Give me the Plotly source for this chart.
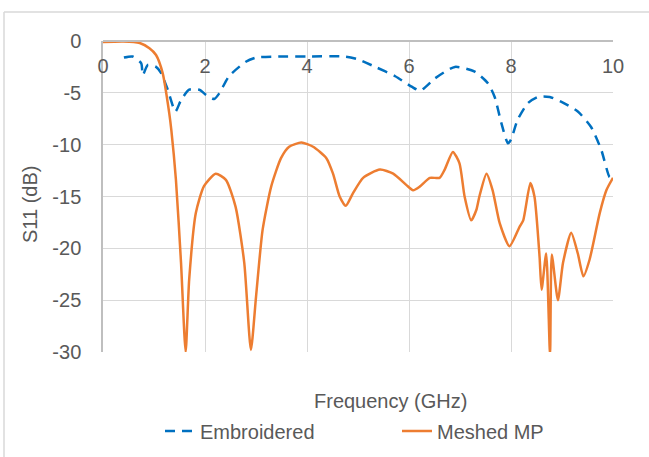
import plotly.graph_objects as go

# Embroidered (dashed blue)
emb_freq = [0.41, 0.58, 0.75, 0.78, 0.88, 1.04, 1.14, 1.27, 1.42, 1.53, 1.69, 1.89, 2.02, 2.18,
            2.28, 2.47, 2.8, 3.0, 3.5, 4.0, 4.75, 5.0, 5.34, 5.73, 6.05, 6.22, 6.51, 6.9, 7.29,
            7.55, 7.68, 7.81, 7.94, 8.0, 8.13, 8.33, 8.53, 8.76, 8.98, 9.31, 9.57, 9.77, 9.93, 9.98]
emb_s11 = [-1.6, -1.5, -2.15, -3.3, -2.3, -2.5, -3.1, -4.7, -6.8, -5.7, -4.7, -4.7, -5.2, -5.6,
           -5.05, -3.4, -2.0, -1.6, -1.5, -1.5, -1.5, -1.77, -2.5, -3.4, -4.4, -4.8, -3.6, -2.5, -2.96,
           -4.1, -5.4, -7.9, -9.87, -9.5, -7.6, -6.0, -5.4, -5.4, -5.85, -6.8, -8.3, -10.5, -13.1, -13.2]

# Meshed MP (solid orange)
mp_freq = [0, 0.4, 0.72, 0.91, 1.04, 1.17, 1.3, 1.34, 1.43, 1.53, 1.62, 1.69, 1.82, 1.98, 2.21,
           2.41, 2.6, 2.77, 2.9, 3.0, 3.13, 3.3, 3.49, 3.65, 3.89, 4.12, 4.38, 4.51, 4.64, 4.76,
           4.9, 5.1, 5.43, 5.69, 5.95, 6.08, 6.21, 6.41, 6.6, 6.7, 6.86, 6.99, 7.09, 7.22, 7.32,
           7.38, 7.52, 7.64, 7.78, 7.97, 8.17, 8.24, 8.38, 8.46, 8.56, 8.6, 8.69, 8.765, 8.80,
           8.92, 9.02, 9.18, 9.31, 9.42, 9.54, 9.74, 9.87, 10.0]
mp_s11 = [-0.1, -0.05, -0.2, -0.7, -1.35, -3.1, -7.0, -8.6, -13.4, -21.4, -30, -23, -16.6, -14, -12.8,
          -13.4, -16, -21.4, -29.8, -24.7, -18.2, -14, -11.3, -10.2, -9.8, -10.2, -11.3, -12.8, -15, -15.9,
          -14.7, -13.2, -12.4, -12.8, -13.9, -14.4, -14.05, -13.2, -13.2, -12.4, -10.7, -11.8, -15, -17.3, -16.3,
          -15, -12.8, -14.4, -17.6, -19.8, -17.9, -17.3, -13.7, -15, -20.8, -24.0, -20.5, -30.3, -20.6,
          -25, -21.4, -18.5, -20.5, -22.7, -21.1, -16.6, -14.4, -13.2]

x_ticks = [0, 2, 4, 6, 8, 10]
x_labels = ["0", "2", "4", "6", "8", "10"]
y_ticks = [0, -5, -10, -15, -20, -25, -30]
y_labels = ["0", "-5", "-10", "-15", "-20", "-25", "-30"]

FONT = "Liberation Sans, Arial, sans-serif"
GRID = "#D9D9D9"
TXT = "#595959"

L, R, T, B = 103, 36, 41, 105
PW = 649 - L - R
PH = 457 - T - B


def px_x(p):
    return (p - L) / PW


def px_y(p):
    return (457 - B - p) / PH


fig = go.Figure()
fig.add_trace(go.Scatter(x=emb_freq, y=emb_s11, name="Embroidered", mode="lines",
                         line=dict(color="#0070C0", width=2.5, dash="10px,7px", shape="spline", smoothing=0.6)))
fig.add_trace(go.Scatter(x=mp_freq, y=mp_s11, name="Meshed MP", mode="lines", xaxis="x2",
                         line=dict(color="#ED7D31", width=2.5, shape="spline", smoothing=0.6)))

fig.update_layout(
    width=649, height=457,
    margin=dict(l=L, r=R, t=T, b=B, autoexpand=False),
    paper_bgcolor="white", plot_bgcolor="white",
    font=dict(family=FONT, size=20, color=TXT),
    showlegend=True,
    legend=dict(orientation="h", x=px_x(160), xanchor="left", y=px_y(431), yanchor="middle",
                font=dict(size=20, color=TXT), entrywidth=192, entrywidthmode="pixels",
                bgcolor="rgba(0,0,0,0)"),
    xaxis=dict(range=[0, 10], tickvals=x_ticks, showticklabels=False, showgrid=True,
               gridcolor=GRID, gridwidth=1, zeroline=False, showline=False, automargin=False),
    xaxis2=dict(range=[0, 10], tickvals=x_ticks, ticktext=x_labels, overlaying="x", side="bottom",
                anchor="free", position=1, ticklabelstandoff=7, showgrid=False, zeroline=False,
                showline=True, linecolor="#BFBFBF", linewidth=1.5, ticks="", automargin=False,
                tickfont=dict(size=20, color=TXT)),
    yaxis=dict(range=[-30, 0], tickvals=y_ticks, ticktext=y_labels, showgrid=True, gridcolor=GRID,
               gridwidth=1, zeroline=False, showline=True, linecolor="#BFBFBF", linewidth=1.5, ticks="",
               ticklabelstandoff=16, automargin=False, tickfont=dict(size=20, color=TXT)),
    annotations=[
        dict(text="Frequency (GHz)", xref="paper", yref="paper", x=px_x(390),
             y=px_y(401), xanchor="center", yanchor="middle", showarrow=False,
             font=dict(size=20, color=TXT)),
        dict(text="S11 (dB)", xref="paper", yref="paper", x=px_x(30),
             y=px_y(205), xanchor="center", yanchor="middle", showarrow=False,
             textangle=-90, font=dict(size=20, color=TXT)),
    ],
    shapes=[
        dict(type="line", xref="paper", yref="paper", x0=px_x(4), x1=px_x(4),
             y0=px_y(12), y1=px_y(470), line=dict(color=GRID, width=1.5)),
        dict(type="line", xref="paper", yref="paper", x0=px_x(4), x1=px_x(670),
             y0=px_y(12), y1=px_y(12), line=dict(color=GRID, width=1.5)),
    ],
)

fig.write_html("out.html", config={"displayModeBar": False},
               post_script="document.body.style.margin='0px';")
